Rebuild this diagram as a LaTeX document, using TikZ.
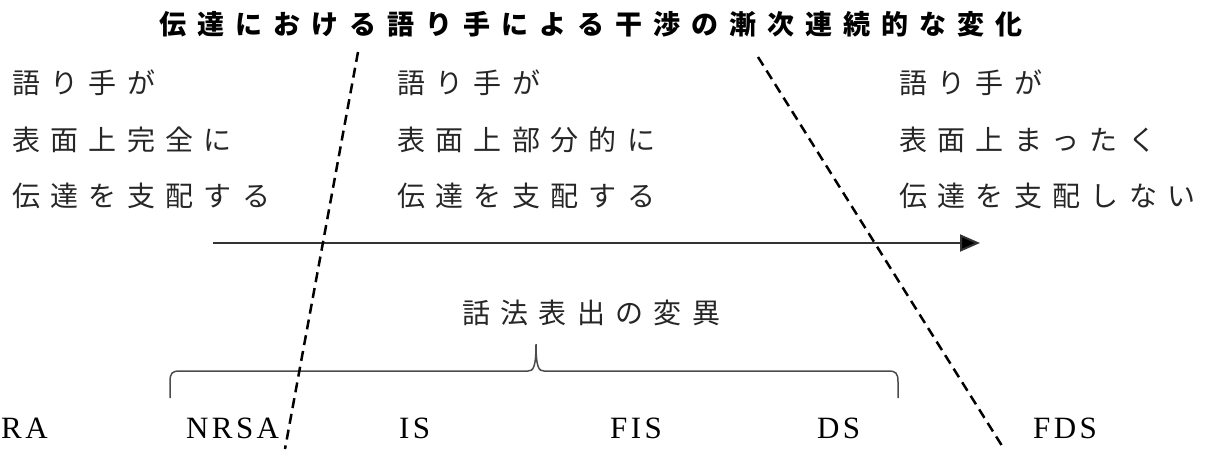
\documentclass[tikz,border=0pt]{standalone}
\usepackage{fontspec}
\usetikzlibrary{arrows.meta}
\newfontfamily\jpbody[LetterSpace=37]{Noto Sans CJK JP}
\newfontfamily\jptitle[LetterSpace=41]{Noto Sans CJK JP}
\newfontfamily\latlab[LetterSpace=11]{Liberation Serif}
\tikzset{
  body/.style={anchor=west, inner sep=0pt, text=black!85, font=\jpbody\fontsize{28}{28}\selectfont},
  ttl/.style={anchor=west, inner sep=0pt, text=black, font=\jptitle\bfseries\fontsize{27}{27}\selectfont},
  lab/.style={anchor=base west, inner sep=0pt, text=black, font=\latlab\fontsize{31}{31}\selectfont},
  divider/.style={draw=black, line width=2.5pt, dash pattern=on 10pt off 6pt},
  mainarrow/.style={draw=black!80, line width=2pt, -{Triangle[length=20pt,width=17pt,fill=black]}},
  bracepath/.style={draw=black!70, line width=1.5pt}
}
\begin{document}
\begin{tikzpicture}[x=1pt,y=-1pt]
\useasboundingbox (0,0) rectangle (1209,450);
% title
\node[ttl] (title) at (159,24) {伝達における語り手による干渉の漸次連続的な変化};
% left column
\node[body] (l1) at (12,83) {語り手が};
\node[body] (l2) at (12,140) {表面上完全に};
\node[body] (l3) at (12,196) {伝達を支配する};
% middle column
\node[body] (m1) at (397,83) {語り手が};
\node[body] (m2) at (397,140) {表面上部分的に};
\node[body] (m3) at (397,196) {伝達を支配する};
% right column
\node[body] (r1) at (899,83) {語り手が};
\node[body] (r2) at (899,140) {表面上まったく};
\node[body] (r3) at (899,196) {伝達を支配しない};
% main arrow
\coordinate (arrS) at (213,243);
\coordinate (arrE) at (980,243);
\draw[mainarrow] (arrS) -- (arrE);
% brace label
\node[body] (var) at (462,313) {話法表出の変異};
% brace
\coordinate (brL) at (170,398);
\coordinate (brR) at (898,398);
\draw[bracepath] (brL) -- (170,382) .. controls (170,373) and (172,371) .. (180,371)
  -- (528,371) .. controls (533,371) and (536,368) .. (536,344)
  .. controls (536,368) and (539,371) .. (544,371)
  -- (888,371) .. controls (896,371) and (898,373) .. (898,382) -- (brR);
% bottom labels
\node[lab] (RA) at (1,438) {RA};
\node[lab] (NRSA) at (186,438) {NRSA};
\node[lab] (IS) at (399,438) {IS};
\node[lab] (FIS) at (610,438) {FIS};
\node[lab] (DS) at (817,438) {DS};
\node[lab] (FDS) at (1033,438) {FDS};
% dashed dividers
\coordinate (d1a) at (358,52);
\coordinate (d1b) at (285,449);
\coordinate (d2a) at (758,57);
\coordinate (d2b) at (1004,449);
\draw[divider] (d1a) -- (d1b);
\draw[divider] (d2a) -- (d2b);
\end{tikzpicture}
\end{document}
